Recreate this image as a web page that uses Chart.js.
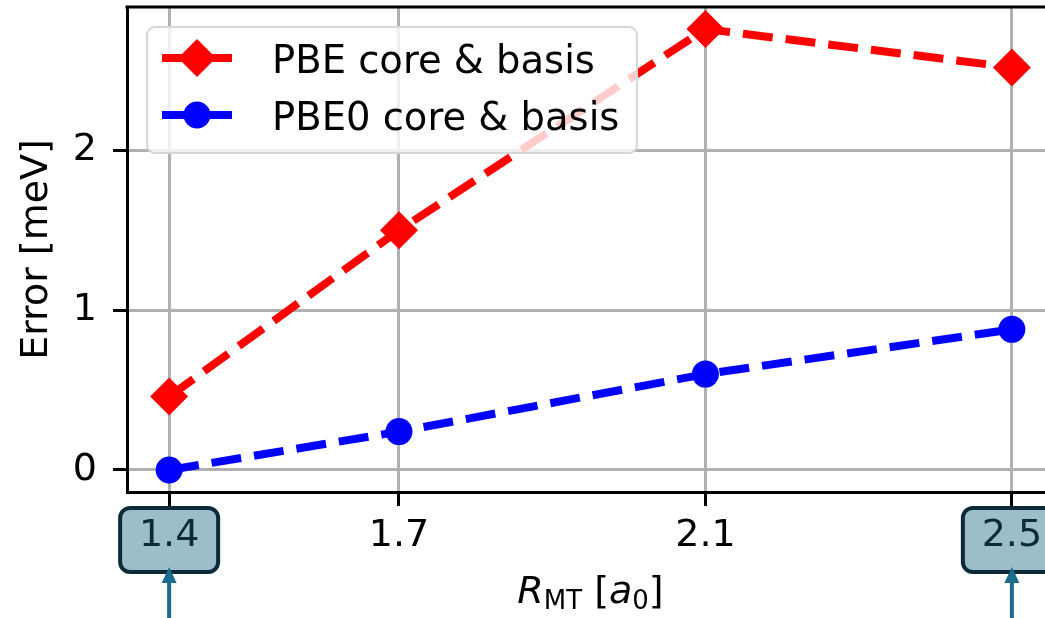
<!DOCTYPE html>
<html>
<head>
<meta charset="utf-8">
<script src="https://cdn.jsdelivr.net/npm/chart.js@4.4.1/dist/chart.umd.min.js"></script>
<style>
html, body { margin: 0; padding: 0; background: #fff; }
#wrap { width: 1045px; height: 618px; overflow: hidden; position: relative; }
#wrap canvas { position: absolute; left: 0; top: 0; }
</style>
</head>
<body>
<div id="wrap"><canvas id="errChart" width="1070" height="618"></canvas></div>
<script>
// values
const radii = [1.4, 1.7, 2.1, 2.5];
const pbeError = [0.46, 1.50, 2.76, 2.52];
const pbe0Error = [0.00, 0.24, 0.60, 0.88];
const xTicks = [1.4, 1.7, 2.1, 2.5];
const yTicks = [0, 1, 2];
const boxedTicks = [1.4, 2.5];
const seriesNames = ['PBE core & basis', 'PBE0 core & basis'];

const FONT = '"DejaVu Sans", sans-serif';
const BOX_FILL = '#9dbdca';
const BOX_EDGE = '#0c2a3a';
const ARROW = '#1c6a8c';

function toPoints(ys) {
	return radii.map((x, i) => ({x: x, y: ys[i]}));
}

// spines, boxed ticks, arrows, legend, x title
const decorPlugin = {
	id: 'decor',
	beforeDraw(chart) {
		const ctx = chart.ctx;
		const xs = chart.scales.x;
		ctx.save();
		boxedTicks.forEach(v => {
			const px = xs.getPixelForValue(v);
			ctx.beginPath();
			ctx.roundRect(px - 49, 508, 98, 64, 10);
			ctx.fillStyle = BOX_FILL;
			ctx.fill();
			ctx.lineWidth = 4;
			ctx.strokeStyle = BOX_EDGE;
			ctx.stroke();
		});
		ctx.restore();
	},
	afterDatasetsDraw(chart) {
		const ctx = chart.ctx;
		ctx.save();
		ctx.beginPath();
		ctx.roundRect(147, 27, 490, 126, 8);
		ctx.fillStyle = 'rgba(255,255,255,0.8)';
		ctx.fill();
		ctx.lineWidth = 2;
		ctx.strokeStyle = '#d6d6d6';
		ctx.stroke();

		const rowsY = [58, 115];
		chart.data.datasets.forEach((ds, i) => {
			const y = rowsY[i];
			ctx.beginPath();
			ctx.setLineDash(ds.borderDash);
			ctx.lineWidth = ds.borderWidth;
			ctx.strokeStyle = ds.borderColor;
			ctx.moveTo(162, y);
			ctx.lineTo(232, y);
			ctx.stroke();
			ctx.setLineDash([]);
			ctx.fillStyle = ds.backgroundColor;
			Chart.helpers.drawPoint(ctx, {pointStyle: ds.pointStyle, radius: ds.pointRadius, rotation: 0, borderWidth: 0}, 197, y);
			ctx.fillStyle = '#000';
			ctx.font = '38.5px ' + FONT;
			ctx.textBaseline = 'alphabetic';
			ctx.textAlign = 'left';
			ctx.fillText(ds.label, 272, y + 15);
		});
		ctx.restore();
	},
	afterDraw(chart) {
		const ctx = chart.ctx;
		const area = chart.chartArea;
		const xs = chart.scales.x;
		ctx.save();
		// top spine
		ctx.beginPath();
		ctx.lineWidth = 3;
		ctx.strokeStyle = '#000';
		ctx.moveTo(area.left - 1.5, area.top);
		ctx.lineTo(area.right, area.top);
		ctx.stroke();

		// arrows under boxed ticks
		boxedTicks.forEach(v => {
			const px = xs.getPixelForValue(v);
			ctx.beginPath();
			ctx.lineWidth = 4;
			ctx.strokeStyle = ARROW;
			ctx.moveTo(px, 620);
			ctx.lineTo(px, 580);
			ctx.stroke();
			ctx.beginPath();
			ctx.fillStyle = ARROW;
			ctx.moveTo(px, 567);
			ctx.lineTo(px - 7.5, 583);
			ctx.lineTo(px + 7.5, 583);
			ctx.closePath();
			ctx.fill();
		});

		// x axis title: R_MT [a_0]
		const parts = [
			{t: 'R', size: 38, italic: true, dy: 0},
			{t: 'MT', size: 26, italic: false, dy: 6},
			{t: ' [', size: 38, italic: false, dy: 0},
			{t: 'a', size: 38, italic: true, dy: 0},
			{t: '0', size: 26, italic: false, dy: 6},
			{t: ']', size: 38, italic: false, dy: 0}
		];
		let total = 0;
		parts.forEach(p => {
			ctx.font = (p.italic ? 'oblique ' : '') + p.size + 'px ' + FONT;
			p.w = ctx.measureText(p.t).width;
			total += p.w;
		});
		let cx = (area.left + area.right) / 2 - total / 2;
		ctx.fillStyle = '#000';
		ctx.textBaseline = 'alphabetic';
		ctx.textAlign = 'left';
		parts.forEach(p => {
			ctx.font = (p.italic ? 'oblique ' : '') + p.size + 'px ' + FONT;
			ctx.fillText(p.t, cx, 603 + p.dy);
			cx += p.w;
		});
		ctx.restore();
	}
};

const chart = new Chart(document.getElementById('errChart'), {
	type: 'line',
	data: {
		datasets: [{
			label: seriesNames[0],
			data: toPoints(pbeError),
			borderColor: '#ff0000',
			backgroundColor: '#ff0000',
			borderWidth: 8,
			borderDash: [30, 13],
			pointStyle: 'rectRot',
			pointRadius: 19,
			pointBorderWidth: 0,
			clip: false
		}, {
			label: seriesNames[1],
			data: toPoints(pbe0Error),
			borderColor: '#0000ff',
			backgroundColor: '#0000ff',
			borderWidth: 8,
			borderDash: [30, 13],
			pointStyle: 'circle',
			pointRadius: 13.5,
			pointBorderWidth: 0,
			clip: false
		}]
	},
	options: {
		responsive: false,
		animation: false,
		devicePixelRatio: 1,
		layout: {autoPadding: false, padding: {left: 0, top: 7, right: 16, bottom: 0}},
		plugins: {
			legend: {display: false},
			tooltip: {enabled: false}
		},
		scales: {
			x: {
				type: 'linear',
				min: 1.345,
				max: 2.555,
				afterBuildTicks: (scale) => { scale.ticks = xTicks.map(v => ({value: v})); },
				afterFit: (scale) => {
					scale.height = 126;
					scale.paddingLeft = 0;
					scale.paddingRight = 0;
				},
				grid: {color: '#b0b0b0', lineWidth: 3, tickLength: 14, tickColor: '#000', tickWidth: 3},
				border: {color: '#000', width: 3},
				ticks: {
					font: {family: FONT, size: 38},
					color: (c) => boxedTicks.includes(c.tick.value) ? BOX_EDGE : '#000',
					padding: 7,
					maxRotation: 0,
					callback: (v) => v.toFixed(1)
				}
			},
			y: {
				min: -0.138,
				max: 2.898,
				afterBuildTicks: (scale) => { scale.ticks = yTicks.map(v => ({value: v})); },
				afterFit: (scale) => {
					scale.width = 127;
					scale.paddingTop = 0;
					scale.paddingBottom = 0;
				},
				grid: {color: '#b0b0b0', lineWidth: 3, tickLength: 14, tickColor: '#000', tickWidth: 3},
				border: {color: '#000', width: 3},
				ticks: {
					font: {family: FONT, size: 38},
					color: '#000',
					padding: 16,
					callback: (v) => String(v)
				},
				title: {
					display: true,
					text: 'Error [meV]',
					font: {family: FONT, size: 38},
					color: '#000',
					padding: {top: 14, bottom: 0}
				}
			}
		}
	},
	plugins: [decorPlugin]
});
</script>
</body>
</html>
